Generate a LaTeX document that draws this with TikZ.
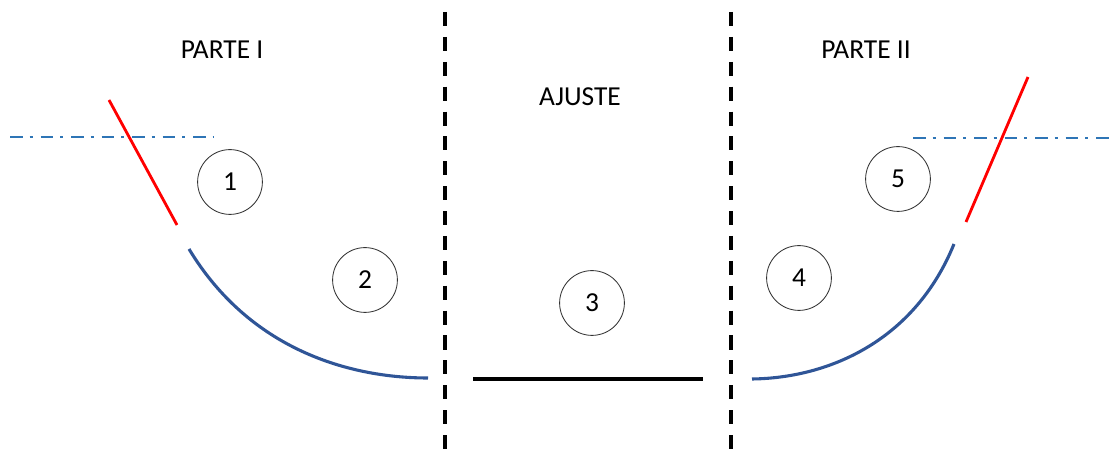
\documentclass[tikz,border=0pt]{standalone}
\usepackage{fontspec}
\setmainfont{Carlito}
\usepackage{tikz}
\pgfdeclarelayer{bg}
\pgfsetlayers{bg,main}
\definecolor{axisblue}{RGB}{46,117,182}
\definecolor{curveblue}{RGB}{47,85,151}
\tikzset{
        zone/.style={font=\fontsize{19.5}{23}\selectfont},
        stage/.style={circle, draw=black!80, line width=0.6pt, minimum size=1.62cm, inner sep=0pt, font=\fontsize{19.5}{23}\selectfont},
        border/.style={line width=2.7pt, dash pattern=on 10pt off 7.7pt},
        axisline/.style={axisblue, line width=2.1pt, dash pattern=on 9.2pt off 4.8pt on 2.1pt off 5.6pt},
        cutline/.style={red, line width=2pt},
        bendline/.style={curveblue, line width=2.2pt}
}

\begin{document}
\begin{tikzpicture}
        \useasboundingbox (0cm, 0cm) rectangle (27.875000cm, 11.325000cm);
        \node (p1) [zone] at (5.550000cm, 10.075000cm) {PARTE I};
        \node (aj) [zone] at (14.500000cm, 8.900000cm) {AJUSTE};
        \node (p2) [zone] at (21.650000cm, 10.075000cm) {PARTE II};
        \node (s1) [stage] at (5.750000cm, 6.775000cm) {1};
        \node (s2) [stage] at (9.125000cm, 4.325000cm) {2};
        \node (s3) [stage] at (14.800000cm, 3.750000cm) {3};
        \node (s4) [stage] at (19.975000cm, 4.375000cm) {4};
        \node (s5) [stage] at (22.450000cm, 6.850000cm) {5};
        \coordinate (b1t) at (11.125000cm, 11.025000cm);
        \coordinate (b1b) at (11.125000cm, 0.000000cm);
        \coordinate (b2t) at (18.275000cm, 11.025000cm);
        \coordinate (b2b) at (18.275000cm, 0.000000cm);
        \coordinate (a1l) at (0.250000cm, 7.900000cm);
        \coordinate (a1r) at (5.325000cm, 7.900000cm);
        \coordinate (a2l) at (22.825000cm, 7.875000cm);
        \coordinate (a2r) at (27.875000cm, 7.875000cm);
        \coordinate (r1t) at (2.725000cm, 8.825000cm);
        \coordinate (r1b) at (4.425000cm, 5.700000cm);
        \coordinate (r2t) at (25.700000cm, 9.400000cm);
        \coordinate (r2b) at (24.150000cm, 5.775000cm);
        \coordinate (k1s) at (4.725000cm, 5.100000cm);
        \coordinate (k1e) at (10.700000cm, 1.875000cm);
        \coordinate (k2s) at (18.800000cm, 1.850000cm);
        \coordinate (k2e) at (23.850000cm, 5.225000cm);
        \coordinate (fl) at (11.825000cm, 1.850000cm);
        \coordinate (fr) at (17.575000cm, 1.850000cm);
        \begin{pgfonlayer}{bg}
                \draw [border] (b1t) -- (b1b);
                \draw [border] (b2t) -- (b2b);
                \draw [axisline] (a1l) -- (a1r);
                \draw [axisline] (a2l) -- (a2r);
                \draw [cutline] (r1t) -- (r1b);
                \draw [cutline] (r2t) -- (r2b);
                \draw [bendline] (k1s) .. controls (6.250000cm, 2.575000cm) and (8.750000cm, 1.875000cm) .. (k1e);
                \draw [bendline] (k2s) .. controls (20.750000cm, 1.875000cm) and (22.875000cm, 2.825000cm) .. (k2e);
                \draw [line width=2.2pt] (fl) -- (fr);
        \end{pgfonlayer}
\end{tikzpicture}
\end{document}
